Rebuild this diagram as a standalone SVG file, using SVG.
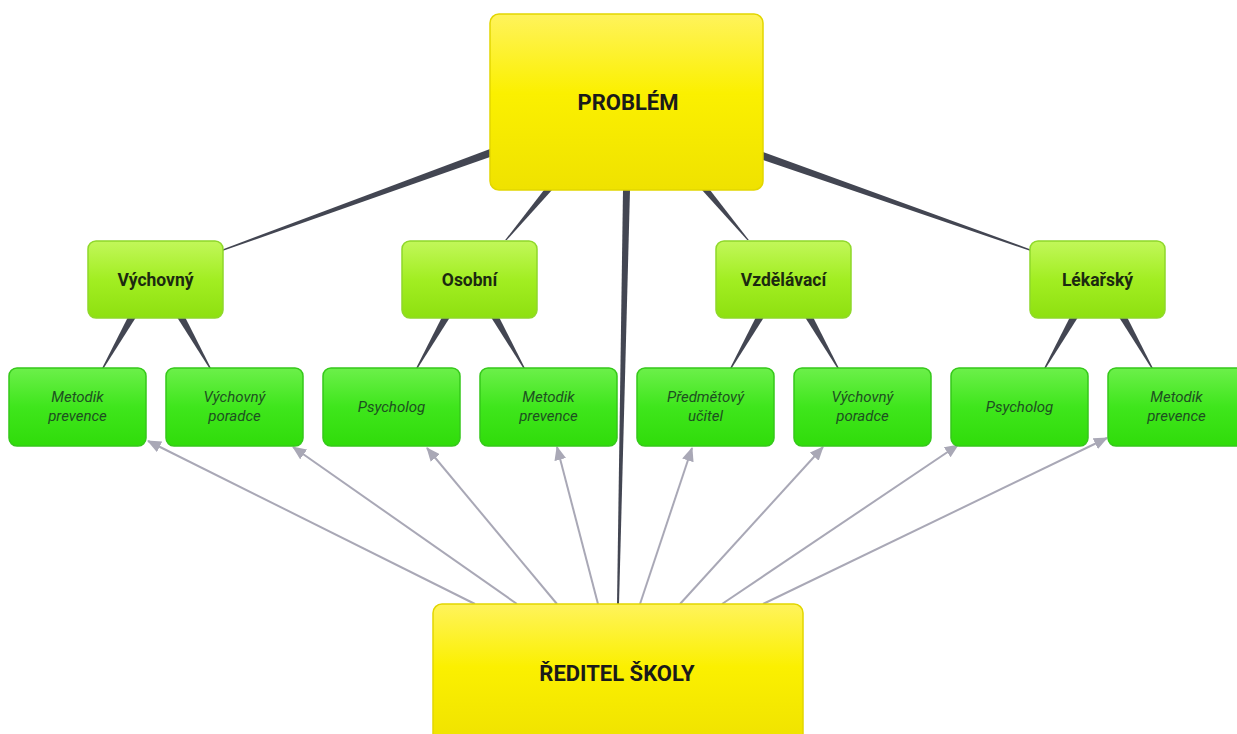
<svg xmlns="http://www.w3.org/2000/svg" width="1237" height="734" viewBox="0 0 1237 734">
<defs>
<linearGradient id="gY" x1="0" y1="0" x2="0" y2="1">
<stop offset="0" stop-color="#fff35c"/><stop offset="0.45" stop-color="#fbf000"/><stop offset="1" stop-color="#efe200"/>
</linearGradient>
<linearGradient id="gL" x1="0" y1="0" x2="0" y2="1">
<stop offset="0" stop-color="#c2f75a"/><stop offset="0.5" stop-color="#a2ee22"/><stop offset="1" stop-color="#8ee010"/>
</linearGradient>
<linearGradient id="gG" x1="0" y1="0" x2="0" y2="1">
<stop offset="0" stop-color="#6cf04a"/><stop offset="0.5" stop-color="#3fe61c"/><stop offset="1" stop-color="#30dc0a"/>
</linearGradient>
<marker id="ah" markerWidth="14" markerHeight="12" refX="13" refY="6" orient="auto" markerUnits="userSpaceOnUse">
<path d="M0,0 L14,6 L0,12 Z" fill="#a9a8b6"/>
</marker>
</defs>
<style>
.y{fill:url(#gY);stroke:#e2d600;stroke-width:1.5}
.l{fill:url(#gL);stroke:#8fd82a;stroke-width:1.5}
.g{fill:url(#gG);stroke:#35c81a;stroke-width:1.5}
.t1{font-family:Roboto,"Liberation Sans",sans-serif;font-weight:bold;font-size:22px;fill:#1a1a1a;text-anchor:middle}
.t2{font-family:Roboto,"Liberation Sans",sans-serif;font-weight:bold;font-size:17.5px;fill:#1c2a10;text-anchor:middle}
.t3{font-family:Roboto,"Liberation Sans",sans-serif;font-style:italic;font-size:15px;fill:#1d5020;text-anchor:middle}
.w{fill:#434652}
.a{stroke:#a9a8b6;stroke-width:2;fill:none;marker-end:url(#ah)}
</style>
<g id="connectors">
<polygon class="w" points="490,149 490,157 223,250.8 223,249.2"/>
<polygon class="w" points="544,190 552,190 506.8,240 505.2,240"/>
<polygon class="w" points="702,190 710,190 748.8,240 747.2,240"/>
<polygon class="w" points="763,152 763,160 1030,250.8 1030,249.2"/>
<polygon class="w" points="623,190 630,190 619,604 617,604"/>
<polygon class="w" points="127.5,318 135.5,318 103.8,368 102.2,368"/>
<polygon class="w" points="177.5,318 185.5,318 210.8,368 209.2,368"/>
<polygon class="w" points="441.5,318 449.5,318 417.8,368 416.2,368"/>
<polygon class="w" points="491.5,318 499.5,318 524.8,368 523.2,368"/>
<polygon class="w" points="755.5,318 763.5,318 731.8,368 730.2,368"/>
<polygon class="w" points="805.5,318 813.5,318 838.8,368 837.2,368"/>
<polygon class="w" points="1069.5,318 1077.5,318 1045.8,368 1044.2,368"/>
<polygon class="w" points="1119.5,318 1127.5,318 1152.8,368 1151.2,368"/>
<line class="a" x1="475" y1="604" x2="148" y2="441"/>
<line class="a" x1="517" y1="604" x2="293" y2="447"/>
<line class="a" x1="557" y1="604" x2="427" y2="448"/>
<line class="a" x1="598" y1="604" x2="557" y2="447"/>
<line class="a" x1="640" y1="604" x2="692" y2="448"/>
<line class="a" x1="680" y1="604" x2="823" y2="447"/>
<line class="a" x1="722" y1="604" x2="958" y2="445"/>
<line class="a" x1="763" y1="604" x2="1107" y2="438"/>
</g>
<g id="problem"><rect class="y" x="490" y="14" width="273" height="176" rx="9"/><text class="t1" x="628" y="110">PROBLÉM</text></g>
<g id="reditel"><rect class="y" x="433" y="604" width="370" height="140" rx="9"/><text class="t1" x="617" y="681">ŘEDITEL ŠKOLY</text></g>
<g id="vychovny"><rect class="l" x="88" y="241" width="135" height="77" rx="8"/><text class="t2" x="155.5" y="286">Výchovný</text></g>
<g id="osobni"><rect class="l" x="402" y="241" width="135" height="77" rx="8"/><text class="t2" x="469.5" y="286">Osobní</text></g>
<g id="vzdelavaci"><rect class="l" x="716" y="241" width="135" height="77" rx="8"/><text class="t2" x="783.5" y="286">Vzdělávací</text></g>
<g id="lekarsky"><rect class="l" x="1030" y="241" width="135" height="77" rx="8"/><text class="t2" x="1097.5" y="286">Lékařský</text></g>
<g id="n1"><rect class="g" x="9" y="368" width="137" height="78" rx="8"/><text class="t3" x="77.5" y="402">Metodik</text><text class="t3" x="77.5" y="421">prevence</text></g>
<g id="n2"><rect class="g" x="166" y="368" width="137" height="78" rx="8"/><text class="t3" x="234.5" y="402">Výchovný</text><text class="t3" x="234.5" y="421">poradce</text></g>
<g id="n3"><rect class="g" x="323" y="368" width="137" height="78" rx="8"/><text class="t3" x="391.5" y="412">Psycholog</text></g>
<g id="n4"><rect class="g" x="480" y="368" width="137" height="78" rx="8"/><text class="t3" x="548.5" y="402">Metodik</text><text class="t3" x="548.5" y="421">prevence</text></g>
<g id="n5"><rect class="g" x="637" y="368" width="137" height="78" rx="8"/><text class="t3" x="705.5" y="402">Předmětový</text><text class="t3" x="705.5" y="421">učitel</text></g>
<g id="n6"><rect class="g" x="794" y="368" width="137" height="78" rx="8"/><text class="t3" x="862.5" y="402">Výchovný</text><text class="t3" x="862.5" y="421">poradce</text></g>
<g id="n7"><rect class="g" x="951" y="368" width="137" height="78" rx="8"/><text class="t3" x="1019.5" y="412">Psycholog</text></g>
<g id="n8"><rect class="g" x="1108" y="368" width="137" height="78" rx="8"/><text class="t3" x="1176.5" y="402">Metodik</text><text class="t3" x="1176.5" y="421">prevence</text></g>
</svg>
